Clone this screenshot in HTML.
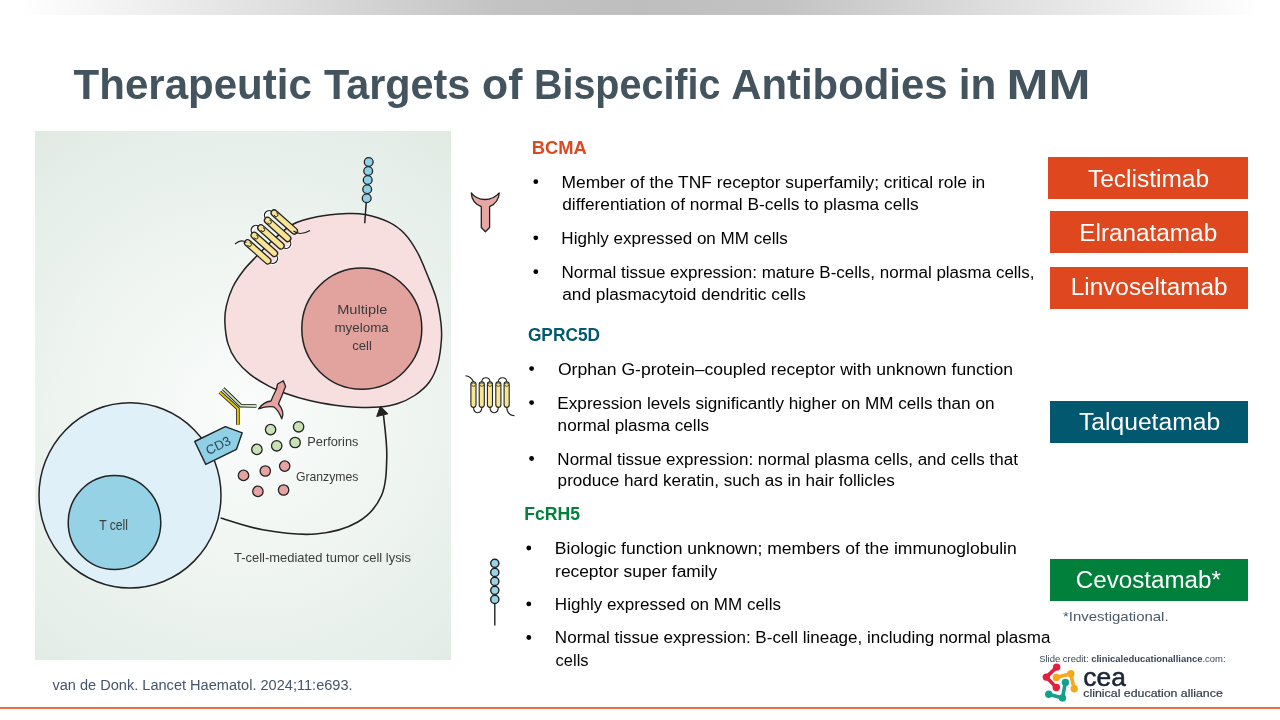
<!DOCTYPE html>
<html><head><meta charset="utf-8"><style>
html,body{margin:0;padding:0;background:#fff;width:1280px;height:720px;overflow:hidden}
svg{display:block;will-change:transform;font-family:"Liberation Sans",sans-serif}
</style></head><body>
<svg width="1280" height="720" viewBox="0 0 1280 720">
<defs>
<linearGradient id="topbar" x1="0" y1="0" x2="1280" y2="0" gradientUnits="userSpaceOnUse">
<stop offset="0.015" stop-color="#ffffff"/><stop offset="0.39" stop-color="#c3c3c3"/><stop offset="0.5" stop-color="#bebebe"/><stop offset="0.61" stop-color="#c3c3c3"/><stop offset="0.985" stop-color="#ffffff"/>
</linearGradient>
<radialGradient id="panelbg" cx="245" cy="410" r="400" gradientUnits="userSpaceOnUse">
<stop offset="0" stop-color="#fafcfb"/><stop offset="0.45" stop-color="#eef4f0"/><stop offset="1" stop-color="#dce8e0"/>
</radialGradient>
</defs>
<rect x="0" y="0" width="1280" height="15" fill="url(#topbar)"/>
<rect x="0" y="707" width="1280" height="2" fill="#F26D42"/>
<rect x="35" y="131" width="416" height="529" fill="url(#panelbg)"/>
<path d="M292.5,224.5 C299.8,220.6 307.8,218.6 317.0,216.8 C326.2,215.0 339.6,214.0 347.6,213.6 C355.6,213.2 358.2,213.2 365.0,214.6 C371.8,216.0 381.7,218.8 388.3,221.9 C394.9,225.1 399.5,228.4 404.4,233.5 C409.3,238.6 413.6,245.4 417.5,252.5 C421.4,259.6 424.5,268.0 427.7,275.8 C430.9,283.6 434.3,291.4 436.5,299.2 C438.7,307.0 440.1,315.7 440.9,322.5 C441.7,329.3 441.9,333.2 441.4,340.0 C440.9,346.8 439.9,356.3 437.9,363.4 C435.9,370.4 433.1,376.9 429.2,382.3 C425.3,387.7 420.0,391.9 414.6,395.5 C409.2,399.1 402.9,401.9 397.1,403.8 C391.3,405.7 386.5,406.4 379.6,407.0 C372.8,407.6 363.4,407.5 356.0,407.2 C348.6,406.9 342.8,406.4 335.0,405.3 C327.2,404.2 317.7,402.6 309.5,400.6 C301.3,398.6 292.5,395.9 285.8,393.5 C279.1,391.1 275.2,389.5 269.3,386.4 C263.4,383.2 255.9,378.9 250.4,374.6 C244.9,370.3 240.0,365.5 236.3,360.4 C232.6,355.3 229.9,350.2 228.0,343.9 C226.1,337.6 225.2,328.9 224.9,322.6 C224.6,316.3 225.0,312.0 226.3,306.1 C227.6,300.2 229.9,293.1 232.7,287.2 C235.5,281.3 239.4,275.8 243.3,270.7 C247.2,265.6 251.4,261.6 256.3,256.5 C261.2,251.4 267.0,245.3 273.0,240.0 C279.0,234.7 285.2,228.4 292.5,224.5 Z" fill="#f7dfe0" stroke="#222" stroke-width="1.5"/><ellipse cx="361.8" cy="328.6" rx="60" ry="60.6" fill="#e2a39f" stroke="#222" stroke-width="1.5"/><ellipse cx="130" cy="495.4" rx="91" ry="92.6" fill="#dff0f8" stroke="#222" stroke-width="1.5"/><ellipse cx="114.5" cy="522.5" rx="46.3" ry="47" fill="#95d2e6" stroke="#222" stroke-width="1.5"/><path d="M220.6,518.0 C227.6,520.0 247.0,527.1 262.8,529.8 C278.6,532.5 299.7,535.3 315.5,534.0 C331.3,532.7 346.8,528.4 357.8,522.0 C368.8,515.6 376.7,506.5 381.5,495.5 C386.3,484.5 386.5,469.4 386.8,456.0 C387.1,442.6 384.1,421.8 383.5,415.0 " fill="none" stroke="#222" stroke-width="1.6"/><path d="M380.4,406.2 L376.7,416.5 L387.9,413.8 Z" fill="#222" stroke="#222" stroke-width="1" stroke-linejoin="round"/><circle cx="270.6" cy="429.6" r="5.2" fill="#c9e2b5" stroke="#222" stroke-width="1.3"/><circle cx="298.6" cy="426.8" r="5.2" fill="#c9e2b5" stroke="#222" stroke-width="1.3"/><circle cx="276.7" cy="445.8" r="5.2" fill="#c9e2b5" stroke="#222" stroke-width="1.3"/><circle cx="295.1" cy="442.5" r="5.2" fill="#c9e2b5" stroke="#222" stroke-width="1.3"/><circle cx="256.9" cy="449.4" r="5.2" fill="#c9e2b5" stroke="#222" stroke-width="1.3"/><circle cx="284.7" cy="466.1" r="5.2" fill="#e6a3a2" stroke="#222" stroke-width="1.3"/><circle cx="265.3" cy="471.0" r="5.2" fill="#e6a3a2" stroke="#222" stroke-width="1.3"/><circle cx="243.5" cy="475.4" r="5.2" fill="#e6a3a2" stroke="#222" stroke-width="1.3"/><circle cx="257.9" cy="491.4" r="5.2" fill="#e6a3a2" stroke="#222" stroke-width="1.3"/><circle cx="283.6" cy="490.0" r="5.2" fill="#e6a3a2" stroke="#222" stroke-width="1.3"/><path d="M194.7,441.5 L225.3,426.7 L242.2,432.8 L236.4,449.4 L205.8,464.4 Z" fill="#8fd0e7" stroke="#222" stroke-width="1.4" stroke-linejoin="round"/><text x="218" y="450" font-size="13" fill="#2c4654" text-anchor="middle" transform="rotate(-26 218 445)">CD3</text><path d="M223.2,388.6 L240.8,405.6 L256.4,406" fill="none" stroke="#222" stroke-width="3.6" stroke-linejoin="miter"/><path d="M223.2,388.6 L240.8,405.6 L256.4,406" fill="none" stroke="#c8deb4" stroke-width="2.0" stroke-linejoin="miter"/><path d="M219.9,392.2 L237.9,408.6 L237.9,424.7" fill="none" stroke="#222" stroke-width="3.6" stroke-linejoin="miter"/><path d="M219.9,392.2 L237.9,408.6 L237.9,424.7" fill="none" stroke="#e3c700" stroke-width="2.0" stroke-linejoin="miter"/><path d="M283.3,380.8 L285.6,386.5 L283.5,391.5 C282,396 280,400 278.5,404 C282,408 284.5,413 281.8,418.8 C279.5,413 277,409 273.5,406.8 C269,406.3 263,407.2 258.6,408.8 C262,404 266,401.5 271,401 C273,396 275,392 276.3,389.5 L277.6,384 Z" fill="#e6a3a2" stroke="#222" stroke-width="1.3" stroke-linejoin="round"/><line x1="366.2" y1="203" x2="364.7" y2="223.3" stroke="#222" stroke-width="1.5"/><circle cx="368.7" cy="162.0" r="4.4" fill="#8fd0e7" stroke="#222" stroke-width="1.3"/><circle cx="368.2" cy="171.0" r="4.4" fill="#8fd0e7" stroke="#222" stroke-width="1.3"/><circle cx="367.7" cy="180.0" r="4.4" fill="#8fd0e7" stroke="#222" stroke-width="1.3"/><circle cx="367.2" cy="189.2" r="4.4" fill="#8fd0e7" stroke="#222" stroke-width="1.3"/><circle cx="366.7" cy="198.3" r="4.4" fill="#8fd0e7" stroke="#222" stroke-width="1.3"/><g transform="translate(274.2 213) rotate(41.7)"><path d="M-1,0 C-9,0 -9,10 -1,10" fill="none" stroke="#fff" stroke-width="3.2"/><path d="M-1,0 C-9,0 -9,10 -1,10" fill="none" stroke="#1e1e1e" stroke-width="1.25"/><path d="M-1,20 C-9,20 -9,30 -1,30" fill="none" stroke="#fff" stroke-width="3.2"/><path d="M-1,20 C-9,20 -9,30 -1,30" fill="none" stroke="#1e1e1e" stroke-width="1.25"/><path d="M28,10 C36,10 36,20 28,20" fill="none" stroke="#fff" stroke-width="3.2"/><path d="M28,10 C36,10 36,20 28,20" fill="none" stroke="#1e1e1e" stroke-width="1.25"/><path d="M28,30 C36,30 36,40 28,40" fill="none" stroke="#fff" stroke-width="3.2"/><path d="M28,30 C36,30 36,40 28,40" fill="none" stroke="#1e1e1e" stroke-width="1.25"/><rect x="-3.1" y="-3.1" width="33.2" height="6.2" rx="3.1" fill="#f8e594" stroke="#1e1e1e" stroke-width="1.25"/><path d="M1.4,-1.5 A1.9,1.9 0 1 1 1.4,1.5" fill="none" stroke="#1e1e1e" stroke-width="0.9"/><rect x="-3.1" y="6.9" width="33.2" height="6.2" rx="3.1" fill="#f8e594" stroke="#1e1e1e" stroke-width="1.25"/><path d="M1.4,8.5 A1.9,1.9 0 1 1 1.4,11.5" fill="none" stroke="#1e1e1e" stroke-width="0.9"/><rect x="-3.1" y="16.9" width="33.2" height="6.2" rx="3.1" fill="#f8e594" stroke="#1e1e1e" stroke-width="1.25"/><path d="M1.4,18.5 A1.9,1.9 0 1 1 1.4,21.5" fill="none" stroke="#1e1e1e" stroke-width="0.9"/><rect x="-3.1" y="26.9" width="33.2" height="6.2" rx="3.1" fill="#f8e594" stroke="#1e1e1e" stroke-width="1.25"/><path d="M1.4,28.5 A1.9,1.9 0 1 1 1.4,31.5" fill="none" stroke="#1e1e1e" stroke-width="0.9"/><rect x="-3.1" y="36.9" width="33.2" height="6.2" rx="3.1" fill="#f8e594" stroke="#1e1e1e" stroke-width="1.25"/><path d="M1.4,38.5 A1.9,1.9 0 1 1 1.4,41.5" fill="none" stroke="#1e1e1e" stroke-width="0.9"/></g><path d="M293.5,231 C298,234.5 304,234 310,230.5" fill="none" stroke="#1e1e1e" stroke-width="1.15"/><path d="M246.5,242.5 C243,240 239,240.5 235,244" fill="none" stroke="#1e1e1e" stroke-width="1.15"/><path d="M471.3,192.9 C475,198 480,199.5 485,199.5 C490,199.5 495,198 499.2,192.9 C499,199 495,204 489.6,206.7 L489.6,227.5 L485.4,231.7 L481.3,227.5 L481.3,206.7 C475,204 471.5,199 471.3,192.9 Z" fill="#e9a7a3" stroke="#222" stroke-width="1.3" stroke-linejoin="round"/><path d="M473.5,407 C473.5,414.6 481.8,414.6 481.8,407" fill="none" stroke="#222" stroke-width="1.1"/><path d="M490,407 C490,414.6 498.3,414.6 498.3,407" fill="none" stroke="#222" stroke-width="1.1"/><path d="M481.8,382 C481.8,376.4 490,376.4 490,382" fill="none" stroke="#222" stroke-width="1.1"/><path d="M498.3,382 C498.3,376.4 506.7,376.4 506.7,382" fill="none" stroke="#222" stroke-width="1.1"/><path d="M473.5,382 C471.5,377.5 468.5,376 465.4,375.8" fill="none" stroke="#222" stroke-width="1.1"/><path d="M506.7,407 C507,413 510,415.5 514.6,415.8" fill="none" stroke="#222" stroke-width="1.1"/><rect x="470.9" y="381.8" width="5.1" height="25.6" rx="2.55" fill="#f7e58f" stroke="#222" stroke-width="1.1"/><ellipse cx="473.5" cy="384.6" rx="2.1" ry="1.7" fill="#f3df85" stroke="#333" stroke-width="0.8"/><rect x="479.2" y="381.8" width="5.1" height="25.6" rx="2.55" fill="#f7e58f" stroke="#222" stroke-width="1.1"/><ellipse cx="481.8" cy="384.6" rx="2.1" ry="1.7" fill="#f3df85" stroke="#333" stroke-width="0.8"/><rect x="487.4" y="381.8" width="5.1" height="25.6" rx="2.55" fill="#f7e58f" stroke="#222" stroke-width="1.1"/><ellipse cx="490.0" cy="384.6" rx="2.1" ry="1.7" fill="#f3df85" stroke="#333" stroke-width="0.8"/><rect x="495.8" y="381.8" width="5.1" height="25.6" rx="2.55" fill="#f7e58f" stroke="#222" stroke-width="1.1"/><ellipse cx="498.3" cy="384.6" rx="2.1" ry="1.7" fill="#f3df85" stroke="#333" stroke-width="0.8"/><rect x="504.1" y="381.8" width="5.1" height="25.6" rx="2.55" fill="#f7e58f" stroke="#222" stroke-width="1.1"/><ellipse cx="506.7" cy="384.6" rx="2.1" ry="1.7" fill="#f3df85" stroke="#333" stroke-width="0.8"/><line x1="494.8" y1="603" x2="494.8" y2="625.6" stroke="#222" stroke-width="1.4"/><circle cx="494.8" cy="563.3" r="4.1" fill="#9bd3e6" stroke="#1e1e1e" stroke-width="1.4"/><circle cx="494.8" cy="572.4" r="4.1" fill="#9bd3e6" stroke="#1e1e1e" stroke-width="1.4"/><circle cx="494.8" cy="581.4" r="4.1" fill="#9bd3e6" stroke="#1e1e1e" stroke-width="1.4"/><circle cx="494.8" cy="590.3" r="4.1" fill="#9bd3e6" stroke="#1e1e1e" stroke-width="1.4"/><circle cx="494.8" cy="599.4" r="4.1" fill="#9bd3e6" stroke="#1e1e1e" stroke-width="1.4"/><rect x="1048" y="157" width="200" height="42" fill="#DF481E"/><rect x="1050" y="211" width="198" height="42" fill="#DF481E"/><rect x="1050" y="267" width="198" height="42" fill="#DF481E"/><rect x="1050" y="401" width="198" height="42" fill="#02586F"/><rect x="1050" y="559" width="198" height="42" fill="#01803C"/><circle cx="535.8" cy="181.7" r="2.4" fill="#000"/><circle cx="535.8" cy="237.8" r="2.4" fill="#000"/><circle cx="535.8" cy="271.7" r="2.4" fill="#000"/><circle cx="531.6" cy="368.6" r="2.4" fill="#000"/><circle cx="531.6" cy="402.6" r="2.4" fill="#000"/><circle cx="531.6" cy="458.5" r="2.4" fill="#000"/><circle cx="528.8" cy="548.0" r="2.4" fill="#000"/><circle cx="528.8" cy="603.9" r="2.4" fill="#000"/><circle cx="528.8" cy="637.5" r="2.4" fill="#000"/><text x="1039.2" y="661.7" font-size="9" fill="#3a4756" textLength="186.4" lengthAdjust="spacingAndGlyphs">Slide credit: <tspan font-weight="bold" fill="#3a4654">clinicaleducationalliance</tspan>.com:</text><polyline points="1056.7,667.1 1046.3,677.1 1056.3,687.5" fill="none" stroke="#e31e3f" stroke-width="3.6" stroke-linejoin="round" stroke-linecap="round"/><circle cx="1056.7" cy="667.1" r="3.7" fill="#e31e3f"/><circle cx="1056.3" cy="687.5" r="3.7" fill="#e31e3f"/><circle cx="1046.3" cy="677.1" r="3.7" fill="#e31e3f"/><polyline points="1056.3,677.5 1070.8,673.8 1074.2,688.8" fill="none" stroke="#f6a81d" stroke-width="3.6" stroke-linejoin="round" stroke-linecap="round"/><circle cx="1056.3" cy="677.5" r="3.7" fill="#f6a81d"/><circle cx="1074.2" cy="688.8" r="3.7" fill="#f6a81d"/><circle cx="1070.8" cy="673.8" r="3.7" fill="#f6a81d"/><polyline points="1065.4,682.5 1062.5,697.9 1048.8,694.2" fill="none" stroke="#15a08c" stroke-width="3.6" stroke-linejoin="round" stroke-linecap="round"/><circle cx="1065.4" cy="682.5" r="3.7" fill="#15a08c"/><circle cx="1048.8" cy="694.2" r="3.7" fill="#15a08c"/><circle cx="1062.5" cy="697.9" r="3.7" fill="#15a08c"/><text x="1083.3" y="685.8" font-size="26" fill="#1a2233" stroke="#1a2233" stroke-width="0.5" textLength="42.5" lengthAdjust="spacingAndGlyphs">cea</text><text x="1083.3" y="696.6" font-size="10.5" fill="#343b49" stroke="#343b49" stroke-width="0.2" textLength="139.5" lengthAdjust="spacingAndGlyphs">clinical education alliance</text>
<text x="73.58" y="99.0" textLength="238.21" lengthAdjust="spacingAndGlyphs" font-size="42.00" font-weight="bold" fill="#44545f">Therapeutic</text>
<text x="323.99" y="99.0" textLength="146.40" lengthAdjust="spacingAndGlyphs" font-size="42.00" font-weight="bold" fill="#44545f">Targets</text>
<text x="482.09" y="99.0" textLength="40.36" lengthAdjust="spacingAndGlyphs" font-size="42.00" font-weight="bold" fill="#44545f">of</text>
<text x="533.93" y="99.0" textLength="186.52" lengthAdjust="spacingAndGlyphs" font-size="42.00" font-weight="bold" fill="#44545f">Bispecific</text>
<text x="731.15" y="99.0" textLength="216.39" lengthAdjust="spacingAndGlyphs" font-size="42.00" font-weight="bold" fill="#44545f">Antibodies</text>
<text x="958.84" y="99.0" textLength="37.53" lengthAdjust="spacingAndGlyphs" font-size="42.00" font-weight="bold" fill="#44545f">in</text>
<text x="1006.62" y="99.0" textLength="84.01" lengthAdjust="spacingAndGlyphs" font-size="42.00" font-weight="bold" fill="#44545f">MM</text>
<text x="531.71" y="154.2" textLength="54.93" lengthAdjust="spacingAndGlyphs" font-size="17.70" font-weight="bold" fill="#DF481E">BCMA</text>
<text x="561.51" y="187.6" textLength="423.80" lengthAdjust="spacingAndGlyphs" font-size="16.00" font-weight="normal" fill="#000">Member of the TNF receptor superfamily; critical role in</text>
<text x="562.21" y="210.4" textLength="356.46" lengthAdjust="spacingAndGlyphs" font-size="16.00" font-weight="normal" fill="#000">differentiation of normal B-cells to plasma cells</text>
<text x="561.34" y="243.7" textLength="226.53" lengthAdjust="spacingAndGlyphs" font-size="16.00" font-weight="normal" fill="#000">Highly expressed on MM cells</text>
<text x="561.54" y="277.6" textLength="473.06" lengthAdjust="spacingAndGlyphs" font-size="16.00" font-weight="normal" fill="#000">Normal tissue expression: mature B-cells, normal plasma cells,</text>
<text x="562.21" y="299.8" textLength="243.57" lengthAdjust="spacingAndGlyphs" font-size="16.00" font-weight="normal" fill="#000">and plasmacytoid dendritic cells</text>
<text x="527.91" y="340.9" textLength="72.13" lengthAdjust="spacingAndGlyphs" font-size="17.70" font-weight="bold" fill="#02586F">GPRC5D</text>
<text x="557.96" y="374.7" textLength="455.08" lengthAdjust="spacingAndGlyphs" font-size="16.00" font-weight="normal" fill="#000">Orphan G-protein–coupled receptor with unknown function</text>
<text x="557.38" y="408.6" textLength="437.08" lengthAdjust="spacingAndGlyphs" font-size="16.00" font-weight="normal" fill="#000">Expression levels significantly higher on MM cells than on</text>
<text x="557.64" y="430.6" textLength="151.39" lengthAdjust="spacingAndGlyphs" font-size="16.00" font-weight="normal" fill="#000">normal plasma cells</text>
<text x="557.39" y="464.5" textLength="460.54" lengthAdjust="spacingAndGlyphs" font-size="16.00" font-weight="normal" fill="#000">Normal tissue expression: normal plasma cells, and cells that</text>
<text x="557.64" y="486.4" textLength="337.12" lengthAdjust="spacingAndGlyphs" font-size="16.00" font-weight="normal" fill="#000">produce hard keratin, such as in hair follicles</text>
<text x="524.36" y="520.0" textLength="55.63" lengthAdjust="spacingAndGlyphs" font-size="17.70" font-weight="bold" fill="#01803C">FcRH5</text>
<text x="554.85" y="553.8" textLength="461.85" lengthAdjust="spacingAndGlyphs" font-size="16.00" font-weight="normal" fill="#000">Biologic function unknown; members of the immunoglobulin</text>
<text x="555.12" y="576.6" textLength="162.02" lengthAdjust="spacingAndGlyphs" font-size="16.00" font-weight="normal" fill="#000">receptor super family</text>
<text x="554.89" y="609.9" textLength="226.07" lengthAdjust="spacingAndGlyphs" font-size="16.00" font-weight="normal" fill="#000">Highly expressed on MM cells</text>
<text x="554.89" y="643.4" textLength="495.62" lengthAdjust="spacingAndGlyphs" font-size="16.00" font-weight="normal" fill="#000">Normal tissue expression: B-cell lineage, including normal plasma</text>
<text x="555.59" y="665.5" textLength="33.00" lengthAdjust="spacingAndGlyphs" font-size="16.00" font-weight="normal" fill="#000">cells</text>
<text x="1088.01" y="186.6" textLength="121.09" lengthAdjust="spacingAndGlyphs" font-size="23.50" font-weight="normal" fill="#fff">Teclistimab</text>
<text x="1079.30" y="241.1" textLength="137.87" lengthAdjust="spacingAndGlyphs" font-size="23.50" font-weight="normal" fill="#fff">Elranatamab</text>
<text x="1070.75" y="295.2" textLength="156.80" lengthAdjust="spacingAndGlyphs" font-size="23.50" font-weight="normal" fill="#fff">Linvoseltamab</text>
<text x="1079.01" y="429.9" textLength="141.11" lengthAdjust="spacingAndGlyphs" font-size="23.50" font-weight="normal" fill="#fff">Talquetamab</text>
<text x="1075.79" y="588.2" textLength="145.02" lengthAdjust="spacingAndGlyphs" font-size="23.50" font-weight="normal" fill="#fff">Cevostamab*</text>
<text x="1062.98" y="620.5" textLength="105.65" lengthAdjust="spacingAndGlyphs" font-size="13.30" font-weight="normal" fill="#4d5866">*Investigational.</text>
<text x="52.43" y="690.0" textLength="300.17" lengthAdjust="spacingAndGlyphs" font-size="14.70" font-weight="normal" fill="#44546A">van de Donk. Lancet Haematol. 2024;11:e693.</text>
<text x="337.24" y="313.7" textLength="50.13" lengthAdjust="spacingAndGlyphs" font-size="13.20" font-weight="normal" fill="#3b3b3b">Multiple</text>
<text x="334.43" y="331.5" textLength="54.40" lengthAdjust="spacingAndGlyphs" font-size="13.20" font-weight="normal" fill="#3b3b3b">myeloma</text>
<text x="352.28" y="349.8" textLength="19.68" lengthAdjust="spacingAndGlyphs" font-size="13.20" font-weight="normal" fill="#3b3b3b">cell</text>
<text x="99.16" y="529.7" textLength="28.85" lengthAdjust="spacingAndGlyphs" font-size="14.00" font-weight="normal" fill="#3b3b3b">T cell</text>
<text x="307.28" y="445.6" textLength="51.19" lengthAdjust="spacingAndGlyphs" font-size="13.20" font-weight="normal" fill="#3b3b3b">Perforins</text>
<text x="295.89" y="481.0" textLength="62.57" lengthAdjust="spacingAndGlyphs" font-size="13.20" font-weight="normal" fill="#3b3b3b">Granzymes</text>
<text x="234.04" y="561.5" textLength="176.92" lengthAdjust="spacingAndGlyphs" font-size="13.20" font-weight="normal" fill="#3b3b3b">T-cell-mediated tumor cell lysis</text>
</svg>
</body></html>
